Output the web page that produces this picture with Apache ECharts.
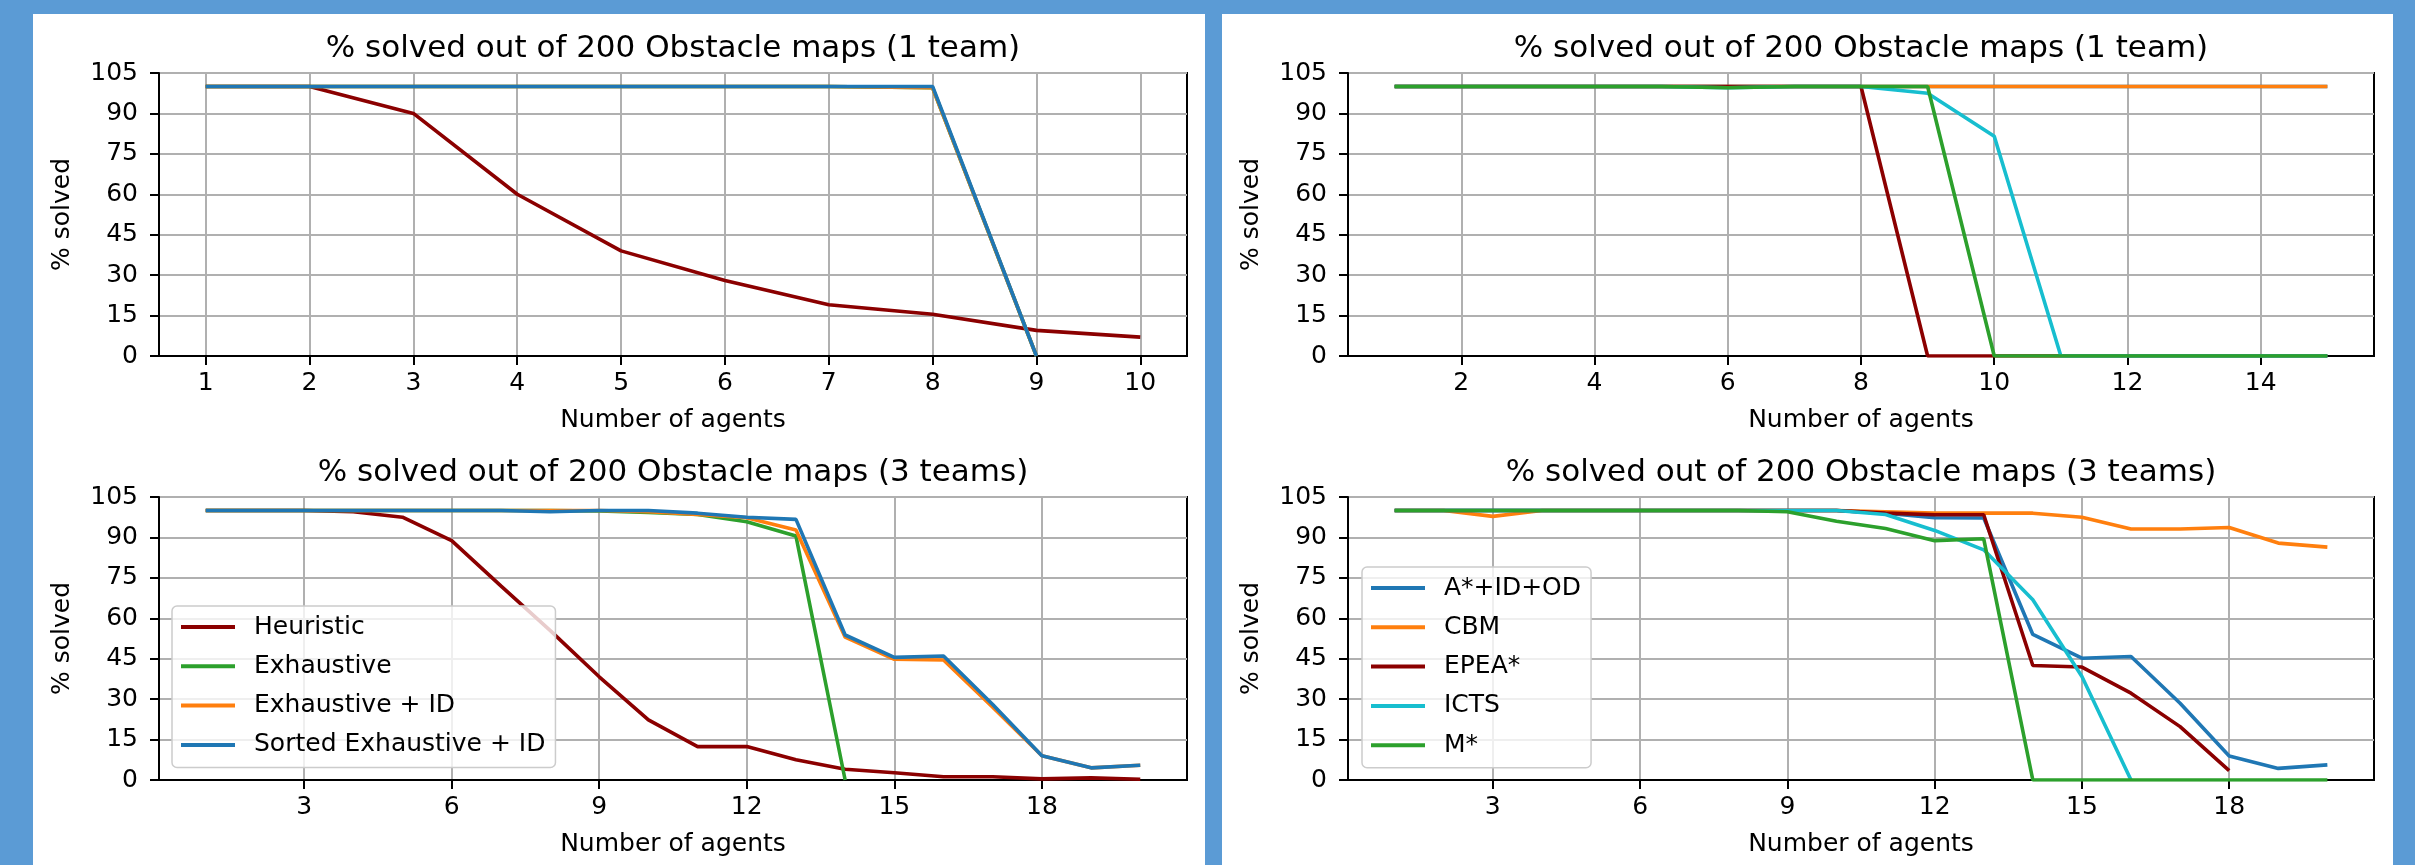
<!DOCTYPE html>
<html>
<head>
<meta charset="utf-8">
<script src="https://cdn.jsdelivr.net/npm/echarts@6/dist/echarts.min.js"></script>
<style>
  html, body { margin: 0; padding: 0; width: 2415px; height: 865px; background: #5b9bd5; overflow: hidden; }
  .panel { position: absolute; background: #ffffff; }
  #chart { position: absolute; left: 0; top: 0; width: 2415px; height: 865px; }
</style>
</head>
<body>
<div class="panel" style="left:33px;top:14px;width:1172px;height:851px;"></div>
<div class="panel" style="left:1222px;top:14px;width:1171px;height:851px;"></div>
<div id="chart"></div>
<script>
// ---------- Data ----------
const titleOneTeam = '% solved out of 200 Obstacle maps (1 team)';
const titleThreeTeams = '% solved out of 200 Obstacle maps (3 teams)';
const xAxisName = 'Number of agents';
const yAxisName = '% solved';

// Top-left: 1 team, heuristic comparison
const tlAgents = [1, 2, 3, 4, 5, 6, 7, 8, 9, 10];
const tlHeuristic = [100, 100, 90, 60, 39, 28, 19, 15.5, 9.5, 7];
const tlExhaustive = [100, 100, 100, 100, 100, 100, 100, 99.5, 0];
const tlExhaustiveID = [100, 100, 100, 100, 100, 100, 100, 99.5, 0];
const tlSorted = [100, 100, 100, 100, 100, 100, 100, 100, 0];
const tlTicks = [1, 2, 3, 4, 5, 6, 7, 8, 9, 10];

// Top-right: 1 team, algorithm comparison
const trAgents = [1, 2, 3, 4, 5, 6, 7, 8, 9, 10, 11, 12, 13, 14, 15];
const trAstar = [100, 100, 100, 100, 100, 100, 100, 100, 100, 100, 100, 100, 100, 100, 100];
const trCBM = [100, 100, 100, 100, 100, 100, 100, 100, 100, 100, 100, 100, 100, 100, 100];
const trEPEA = [100, 100, 100, 100, 100, 100, 100, 100, 0, 0, 0, 0, 0, 0, 0];
const trICTS = [100, 100, 100, 100, 100, 99.5, 100, 100, 97.5, 81.5, 0, 0, 0, 0, 0];
const trMstar = [100, 100, 100, 100, 100, 99.5, 100, 100, 100, 0, 0, 0, 0, 0, 0];
const trTicks = [2, 4, 6, 8, 10, 12, 14];

// Bottom-left: 3 teams, heuristic comparison
const blAgents = [1, 2, 3, 4, 5, 6, 7, 8, 9, 10, 11, 12, 13, 14, 15, 16, 17, 18, 19, 20];
const blHeuristic = [100, 100, 100, 99.5, 97.5, 88.8, 72, 55.5, 38.3, 22.3, 12.4, 12.4, 7.5, 4, 2.7, 1.2, 1.2, 0.4, 0.8, 0.3];
const blExhaustive = [100, 100, 100, 100, 100, 100, 100, 100, 99.8, 99.3, 98.5, 95.8, 90.5, 0];
const blExhaustiveID = [100, 100, 100, 100, 100, 100, 100, 100, 100, 99.5, 98.5, 97.3, 92.8, 53, 44.8, 44.5, 27, 9, 4.5, 5.5];
const blSorted = [100, 100, 100, 100, 100, 100, 100, 99.5, 100, 100, 99, 97.5, 96.7, 53.8, 45.5, 46, 28, 9, 4.5, 5.5];
const blTicks = [3, 6, 9, 12, 15, 18];

// Bottom-right: 3 teams, algorithm comparison
const brAgents = [1, 2, 3, 4, 5, 6, 7, 8, 9, 10, 11, 12, 13, 14, 15, 16, 17, 18, 19, 20];
const brAstar = [100, 100, 100, 100, 100, 100, 100, 100, 100, 100, 99, 97.3, 97.2, 54, 45.2, 45.8, 28.5, 8.9, 4.3, 5.6];
const brCBM = [100, 100, 97.8, 100, 100, 100, 100, 100, 100, 100, 99.5, 99, 99, 99, 97.5, 93.1, 93.1, 93.7, 87.9, 86.4];
const brEPEA = [100, 100, 100, 100, 100, 100, 100, 100, 100, 100, 99, 98.4, 98.4, 42.5, 41.9, 32.2, 19.8, 3.5];
const brICTS = [100, 100, 100, 100, 100, 100, 100, 100, 100, 100, 98.5, 92.6, 85.4, 66.9, 38.4, 0];
const brMstar = [100, 100, 100, 100, 100, 100, 100, 100, 99.5, 96, 93.3, 88.8, 89.5, 0, 0, 0, 0, 0, 0, 0];
const brTicks = [3, 6, 9, 12, 15, 18];

const yMin = 0, yMax = 105, yInterval = 15;

// ---------- Styling ----------
const FONT = 'DejaVu Sans';
const C = {
  darkred: '#8b0000', green: '#2ca02c', orange: '#ff7f0e', blue: '#1f77b4', cyan: '#17becf'
};

const grids = [
  { left: 159, top: 73, width: 1028, height: 283 },
  { left: 1348, top: 73, width: 1026, height: 283 },
  { left: 159, top: 497, width: 1028, height: 283 },
  { left: 1348, top: 497, width: 1026, height: 283 }
];
const xRanges = [[0.55, 10.45], [0.3, 15.7], [0.05, 20.95], [0.05, 20.95]];
const xTicks = [tlTicks, trTicks, blTicks, brTicks];

function pairs(xs, ys) { return ys.map((v, i) => [xs[i], v]); }

function mkX(i) {
  return {
    type: 'value', gridIndex: i, min: xRanges[i][0], max: xRanges[i][1],
    name: xAxisName, nameLocation: 'middle', nameGap: 52,
    nameTextStyle: { fontFamily: FONT, fontSize: 25, color: '#000' },
    axisLine: { show: true, onZero: false, lineStyle: { color: '#000', width: 2 } },
    axisTick: { show: true, inside: false, length: 9, customValues: xTicks[i], lineStyle: { color: '#000', width: 2 } },
    axisLabel: { show: true, margin: 15, customValues: xTicks[i], fontFamily: FONT, fontSize: 25, color: '#000' },
    splitLine: { show: true, lineStyle: { color: '#b0b0b0', width: 2 } }
  };
}
function mkY(i) {
  return {
    type: 'value', gridIndex: i, min: yMin, max: yMax, interval: yInterval,
    name: yAxisName, nameLocation: 'middle', nameGap: 84,
    nameTextStyle: { fontFamily: FONT, fontSize: 25, color: '#000' },
    axisLine: { show: true, onZero: false, lineStyle: { color: '#000', width: 2 } },
    axisTick: { show: true, inside: false, length: 9, lineStyle: { color: '#000', width: 2 } },
    axisLabel: { show: true, margin: 21, fontFamily: FONT, fontSize: 25, color: '#000' },
    splitLine: { show: true, lineStyle: { color: '#b0b0b0', width: 2 } }
  };
}
function line(name, color, gi, xs, ys) {
  return {
    type: 'line', name: name, xAxisIndex: gi, yAxisIndex: gi,
    data: pairs(xs, ys), showSymbol: false, symbol: 'none',
    lineStyle: { color: color, width: 3.6 }, itemStyle: { color: color },
    emphasis: { disabled: true }, animation: false
  };
}

const series = [
  line('Heuristic', C.darkred, 0, tlAgents, tlHeuristic),
  line('Exhaustive', C.green, 0, tlAgents, tlExhaustive),
  line('Exhaustive + ID', C.orange, 0, tlAgents, tlExhaustiveID),
  line('Sorted Exhaustive + ID', C.blue, 0, tlAgents, tlSorted),

  line('A*+ID+OD', C.blue, 1, trAgents, trAstar),
  line('CBM', C.orange, 1, trAgents, trCBM),
  line('EPEA*', C.darkred, 1, trAgents, trEPEA),
  line('ICTS', C.cyan, 1, trAgents, trICTS),
  line('M*', C.green, 1, trAgents, trMstar),

  line('Heuristic', C.darkred, 2, blAgents, blHeuristic),
  line('Exhaustive', C.green, 2, blAgents, blExhaustive),
  line('Exhaustive + ID', C.orange, 2, blAgents, blExhaustiveID),
  line('Sorted Exhaustive + ID', C.blue, 2, blAgents, blSorted),

  line('A*+ID+OD', C.blue, 3, brAgents, brAstar),
  line('CBM', C.orange, 3, brAgents, brCBM),
  line('EPEA*', C.darkred, 3, brAgents, brEPEA),
  line('ICTS', C.cyan, 3, brAgents, brICTS),
  line('M*', C.green, 3, brAgents, brMstar)
];

function mkTitle(text, cx, top) {
  return {
    text: text, left: cx, top: top, textAlign: 'center', padding: 0,
    textStyle: { fontFamily: FONT, fontSize: 31, fontWeight: 'normal', color: '#000' }
  };
}

function mkLegend(names, left, top) {
  return {
    data: names, orient: 'vertical', left: left, top: top,
    icon: 'rect', itemWidth: 54, itemHeight: 4, itemGap: 14.3,
    padding: [8.5, 10, 10, 9],
    backgroundColor: 'rgba(255,255,255,0.8)', borderColor: '#cccccc', borderWidth: 1.5, borderRadius: 5,
    selectedMode: false,
    textStyle: { fontFamily: FONT, fontSize: 25, color: '#000', padding: [0, 0, 0, 14] }
  };
}

const chart = echarts.init(document.getElementById('chart'), null, { renderer: 'canvas' });
chart.setOption({
  backgroundColor: 'transparent',
  animation: false,
  title: [
    mkTitle(titleOneTeam, 673, 33),
    mkTitle(titleOneTeam, 1861, 33),
    mkTitle(titleThreeTeams, 673, 457),
    mkTitle(titleThreeTeams, 1861, 457)
  ],
  legend: [
    mkLegend(['Heuristic', 'Exhaustive', 'Exhaustive + ID', 'Sorted Exhaustive + ID'], 172, 606),
    mkLegend(['A*+ID+OD', 'CBM', 'EPEA*', 'ICTS', 'M*'], 1362, 567)
  ],
  grid: grids.map(g => Object.assign({ show: true, borderColor: '#000', borderWidth: 2, backgroundColor: 'transparent' }, g)),
  xAxis: [0, 1, 2, 3].map(mkX),
  yAxis: [0, 1, 2, 3].map(mkY),
  series: series
});
</script>
</body>
</html>
